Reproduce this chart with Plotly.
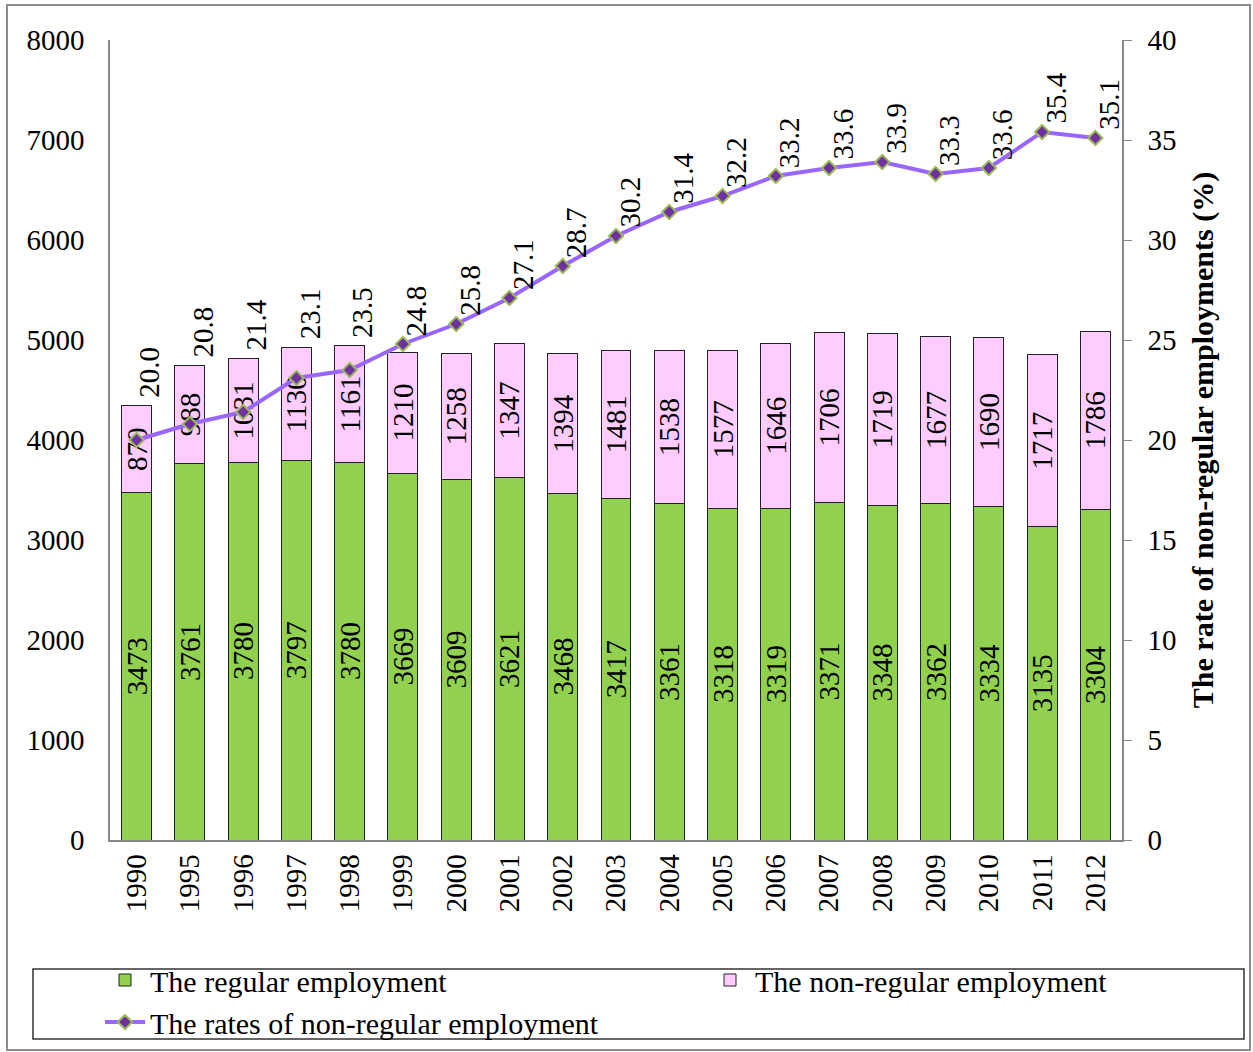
import plotly.graph_objects as go

years = ["1990", "1995", "1996", "1997", "1998", "1999", "2000", "2001", "2002", "2003",
         "2004", "2005", "2006", "2007", "2008", "2009", "2010", "2011", "2012"]
regular = [3473, 3761, 3780, 3797, 3780, 3669, 3609, 3621, 3468, 3417,
           3361, 3318, 3319, 3371, 3348, 3362, 3334, 3135, 3304]
non_regular = [870, 988, 1031, 1130, 1161, 1210, 1258, 1347, 1394, 1481,
               1538, 1577, 1646, 1706, 1719, 1677, 1690, 1717, 1786]
rates = [20.0, 20.8, 21.4, 23.1, 23.5, 24.8, 25.8, 27.1, 28.7, 30.2,
         31.4, 32.2, 33.2, 33.6, 33.9, 33.3, 33.6, 35.4, 35.1]

FONT = "Liberation Serif, Times New Roman, serif"
FS = 29
W, H = 1253, 1052
L, R, T, B = 110, 131, 40, 212
PW, PH = W - L - R, H - T - B
Y1_MAX, Y2_MAX = 8000, 40


def px_x(p):
    return (p - L) / PW


def px_y(p):
    return (H - B - p) / PH


fig = go.Figure()
fig.add_trace(go.Bar(
    x=years, y=regular, name="The regular employment", legend="legend",
    marker=dict(color="#92D050", line=dict(color="#222222", width=1)),
    text=[str(v) for v in regular], textposition="inside", insidetextanchor="middle",
    textangle=-90, constraintext="none",
    textfont=dict(family=FONT, size=FS, color="black"),
))
fig.add_trace(go.Bar(
    x=years, y=non_regular, name="The non-regular employment", legend="legend2",
    marker=dict(color="#FFCCFF", line=dict(color="#222222", width=1)),
    text=[str(v) for v in non_regular], textposition="inside", insidetextanchor="middle",
    textangle=-90, constraintext="none",
    textfont=dict(family=FONT, size=FS, color="black"),
))
fig.add_trace(go.Scatter(
    x=years, y=rates, yaxis="y2", name="The rates of non-regular employment",
    legend="legend", mode="lines+markers",
    line=dict(color="#9966FF", width=4),
    marker=dict(symbol="diamond", size=11, color="#7030A0",
                line=dict(color="#9BBB59", width=2)),
))

# rate labels sit above the point, or above the bar top when the bar is higher
annotations = []
for i, r in enumerate(rates):
    bar_top = (regular[i] + non_regular[i]) * Y2_MAX / Y1_MAX
    annotations.append(dict(
        x=i, y=max(r, bar_top), xref="x", yref="y2", text=f"{r:.1f}", textangle=-90,
        showarrow=False, xanchor="center", yanchor="bottom", xshift=13, yshift=6,
        font=dict(family=FONT, size=FS, color="black"),
    ))

shapes = [
    dict(type="rect", xref="paper", yref="paper",
         x0=px_x(7), x1=px_x(1250), y0=px_y(1050), y1=px_y(5),
         line=dict(color="#8C8C8C", width=2), layer="below"),
    dict(type="rect", xref="paper", yref="paper",
         x0=px_x(33), x1=px_x(1244), y0=px_y(1039), y1=px_y(969),
         line=dict(color="#333333", width=1.5), layer="below"),
]

legend_common = dict(orientation="v", xanchor="left", yanchor="top",
                     bgcolor="rgba(0,0,0,0)", traceorder="normal",
                     font=dict(family=FONT, size=30), tracegroupgap=0, itemwidth=40)

fig.update_layout(
    width=W, height=H,
    margin=dict(l=L, r=R, t=T, b=B, autoexpand=False),
    paper_bgcolor="white", plot_bgcolor="white",
    font=dict(family=FONT, size=FS, color="black"),
    barmode="stack", bargap=0.437,
    showlegend=True,
    legend=dict(x=px_x(100), y=px_y(954), **legend_common),
    legend2=dict(x=px_x(705), y=px_y(954), **legend_common),
    xaxis=dict(type="category", tickangle=-90, showline=True, linecolor="#868686",
               linewidth=1.5, ticks="", showgrid=False, ticklabelstandoff=1,
               range=[-0.5, len(years) - 0.5]),
    yaxis=dict(range=[0, Y1_MAX], dtick=1000, showline=True, linecolor="#868686",
               linewidth=1.5, ticks="", showgrid=False, zeroline=False,
               ticklabelstandoff=18),
    yaxis2=dict(range=[0, Y2_MAX], dtick=5, overlaying="y", side="right", showline=True,
                linecolor="#868686", linewidth=1.5, ticks="outside", ticklen=8,
                tickcolor="#868686", showgrid=False, zeroline=False,
                ticklabelstandoff=10,
                title=dict(text="<b>The rate of non-regular employments (%)</b>",
                           font=dict(family=FONT, size=30), standoff=16)),
    annotations=annotations,
    shapes=shapes,
)

fig.write_html("out.html", post_script="document.body.style.margin='0';",
               config={"displayModeBar": False})
